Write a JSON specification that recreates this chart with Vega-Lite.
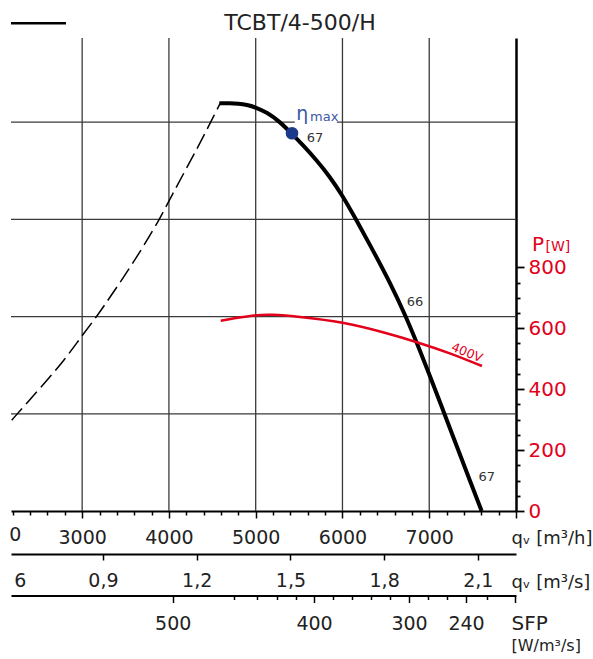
{
  "$schema": "https://vega.github.io/schema/vega-lite/v6.json",
  "width": 505,
  "height": 473,
  "autosize": {"type": "none"},
  "padding": {"left": 11, "top": 38, "right": 77, "bottom": 148},
  "background": "white",
  "config": {
    "view": {"stroke": null},
    "axis": {"grid": false, "labelFont": "DejaVu Sans", "titleFont": "DejaVu Sans", "labelFlush": false, "labelOverlap": false, "labelBound": false, "titleFontWeight": "normal", "labelColor": "#222222", "titleColor": "#222222", "domainColor": "#000000", "tickColor": "#000000"},
    "text": {"font": "DejaVu Sans"}
  },
  "datasets": {
    "vgrid": [{"q": 3000}, {"q": 4000}, {"q": 5000}, {"q": 6000}, {"q": 7000}],
    "hgrid": [
      {"q1": 2180, "q2": 8000, "p": 100},
      {"q1": 2180, "q2": 8000, "p": 200},
      {"q1": 2180, "q2": 8000, "p": 300},
      {"q1": 2180, "q2": 5450, "p": 400},
      {"q1": 5935, "q2": 8000, "p": 400}
    ],
    "dashed": [
      {"q": 2188, "p": 93.4}, {"q": 2361, "p": 110.9}, {"q": 2629, "p": 137.9}, {"q": 2822, "p": 158.4},
      {"q": 3000, "p": 180.7}, {"q": 3168, "p": 200}, {"q": 3321, "p": 220}, {"q": 3586, "p": 254.6},
      {"q": 3897, "p": 300.5}, {"q": 4000, "p": 319.5}, {"q": 4358, "p": 378}, {"q": 4511, "p": 405.5},
      {"q": 4589, "p": 419}
    ],
    "solid": [
      {"q": 4580, "p": 419.3}, {"q": 4700, "p": 419.6}, {"q": 4800, "p": 419.2}, {"q": 4900, "p": 417.8},
      {"q": 5000, "p": 415.3}, {"q": 5130, "p": 410}, {"q": 5272, "p": 401}, {"q": 5418, "p": 388},
      {"q": 5560, "p": 375}, {"q": 5700, "p": 361}, {"q": 5850, "p": 344.5}, {"q": 6000, "p": 324.5},
      {"q": 6144, "p": 302}, {"q": 6352, "p": 268}, {"q": 6548, "p": 235}, {"q": 6732, "p": 200},
      {"q": 6870, "p": 170}, {"q": 7000, "p": 141}, {"q": 7162, "p": 103}, {"q": 7320, "p": 66},
      {"q": 7470, "p": 31}, {"q": 7604, "p": 0}
    ],
    "power": [
      {"q": 4597, "P": 624.8}, {"q": 4992, "P": 643.5}, {"q": 5165, "P": 645.8}, {"q": 5511, "P": 637.9},
      {"q": 6006, "P": 620.5}, {"q": 6467, "P": 587.7}, {"q": 6859, "P": 554.8}, {"q": 7239, "P": 518.7},
      {"q": 7608, "P": 476}
    ],
    "dot": [{"q": 5418.5, "p": 388.6}],
    "nums": [
      {"q": 6836, "p": 215.3, "t": "66"},
      {"q": 7662, "p": 35.3, "t": "67"},
      {"q": 5683, "p": 383.4, "t": "67"}
    ],
    "eta": [{"q": 5468, "p": 402.3, "t": "η"}],
    "maxlab": [{"q": 5626, "p": 400.7, "t": "max"}],
    "volt": [{"q": 7435, "P": 519.7, "t": "400V"}],
    "legend": [{"q1": 2180, "q2": 2814, "p": 501.7}],
    "heading": [{"q": 5511, "p": 494.9, "t": "TCBT/4-500/H"}]
  },
  "layer": [
    {
      "data": {"name": "vgrid"},
      "mark": {"type": "rule", "color": "#3a3a3a", "strokeWidth": 1.3},
      "encoding": {
        "x": {
          "field": "q", "type": "quantitative",
          "scale": {"domain": [2180, 8000], "nice": false, "zero": false},
          "axis": {
            "orient": "bottom",
            "values": [2200, 2400, 2600, 2800, 3000, 3200, 3400, 3600, 3800, 4000, 4200, 4400, 4600, 4800, 5000, 5200, 5400, 5600, 5800, 6000, 6200, 6400, 6600, 6800, 7000, 7200, 7400, 7600, 7800, 8000],
            "labelExpr": "datum.value == 2200 ? '0' : ((datum.value % 1000 == 0 && datum.value < 8000) ? format(datum.value, 'd') : '')",
            "tickSize": {"condition": {"test": "datum.value % 1000 == 0", "value": 7}, "value": 4},
            "labelOffset": {"condition": {"test": "datum.value == 2200", "value": 2}, "value": 0},
            "domainWidth": 2, "tickWidth": 1.5,
            "labelFontSize": 19, "labelPadding": 19, "labelBaseline": "middle",
            "title": "qᵥ [m³/h]", "titleFontSize": 18, "titleAngle": 0, "titleAlign": "left", "titleBaseline": "middle", "titleX": 500, "titleY": 27
          }
        }
      }
    },
    {
      "data": {"name": "hgrid"},
      "mark": {"type": "rule", "color": "#3a3a3a", "strokeWidth": 1.3},
      "encoding": {
        "x": {"field": "q1", "type": "quantitative", "scale": {"domain": [2180, 8000], "nice": false, "zero": false}, "axis": null},
        "x2": {"field": "q2"},
        "y": {"field": "p", "type": "quantitative", "scale": {"domain": [0, 486.6], "nice": false, "zero": false}, "axis": null}
      }
    },
    {
      "data": {"name": "dashed"},
      "mark": {"type": "line", "color": "#000000", "strokeWidth": 1.5, "strokeDash": [16, 6], "interpolate": "basis"},
      "encoding": {
        "x": {
          "field": "q", "type": "quantitative",
          "scale": {"domain": [2180, 8000], "nice": false, "zero": false},
          "axis": {
            "orient": "bottom", "offset": 43,
            "values": [2280, 3240, 4320, 5400, 6480, 7560],
            "labelExpr": "datum.value == 2280 ? '6' : replace(format(datum.value / 3600, '.1f'), '.', ',')",
            "tickOpacity": {"condition": {"test": "datum.value == 2280", "value": 0}, "value": 1},
            "tickSize": 6, "tickWidth": 1.5, "domainWidth": 2,
            "labelFontSize": 19, "labelPadding": 20, "labelBaseline": "middle",
            "title": "qᵥ [m³/s]", "titleFontSize": 18, "titleAngle": 0, "titleAlign": "left", "titleBaseline": "middle", "titleX": 500, "titleY": 28
          }
        },
        "y": {"field": "p", "type": "quantitative", "scale": {"domain": [0, 486.6], "nice": false, "zero": false}, "axis": null}
      }
    },
    {
      "data": {"name": "solid"},
      "mark": {"type": "line", "color": "#000000", "strokeWidth": 4, "interpolate": "basis"},
      "encoding": {
        "x": {
          "field": "q", "type": "quantitative",
          "scale": {"domain": [2180, 8000], "nice": false, "zero": false},
          "axis": {
            "orient": "bottom", "offset": 84.5, "domain": false, "ticks": false, "labels": false,
            "title": "[W/m³/s]", "titleFontSize": 16, "titleAngle": 0, "titleAlign": "left", "titleBaseline": "middle", "titleX": 500, "titleY": 50
          }
        },
        "y": {"field": "p", "type": "quantitative", "scale": {"domain": [0, 486.6], "nice": false, "zero": false}, "axis": null}
      }
    },
    {
      "data": {"name": "power"},
      "mark": {"type": "line", "color": "#e3001b", "strokeWidth": 2.5, "interpolate": "basis"},
      "encoding": {
        "x": {
          "field": "q", "type": "quantitative",
          "scale": {"domain": [2180, 8000], "nice": false, "zero": false},
          "axis": {
            "orient": "bottom", "offset": 84.5,
            "values": [4044, 4753, 5012, 5242, 5461, 5672, 5888, 6113, 6329, 6548, 6767, 6982, 7201, 7424, 7662, 7990],
            "labelExpr": "datum.value == 4044 ? '500' : datum.value == 5672 ? '400' : datum.value == 6767 ? '300' : datum.value == 7424 ? '240' : ''",
            "tickSize": {"condition": {"test": "indexof([4044, 5672, 6767, 7424, 7990], datum.value) >= 0", "value": 7}, "value": 4},
            "tickWidth": 1.5, "domainWidth": 2,
            "labelFontSize": 19, "labelPadding": 21, "labelBaseline": "middle",
            "title": "SFP", "titleFontSize": 20, "titleAngle": 0, "titleAlign": "left", "titleBaseline": "middle", "titleX": 500, "titleY": 27.5
          }
        },
        "y": {
          "field": "P", "type": "quantitative",
          "scale": {"domain": [0, 1553], "nice": false, "zero": false},
          "axis": {
            "orient": "right",
            "values": [0, 50, 100, 150, 200, 250, 300, 350, 400, 450, 500, 550, 600, 650, 700, 750, 800],
            "labelExpr": "datum.value % 200 == 0 ? format(datum.value, 'd') : ''",
            "tickSize": {"condition": {"test": "datum.value % 200 == 0", "value": 8}, "value": 4},
            "tickWidth": 1.8, "domainWidth": 2.5,
            "labelColor": "#e3001b", "labelFontSize": 20, "labelPadding": 4, "labelBaseline": "middle", "labelAlign": "left",
            "title": "P", "titleColor": "#e3001b", "titleFontSize": 20, "titleAngle": 0, "titleAlign": "left", "titleBaseline": "alphabetic", "titleX": 15.5, "titleY": 212
          }
        }
      }
    },
    {
      "data": {"name": "dot"},
      "mark": {"type": "point", "filled": true, "color": "#1c3a8c", "opacity": 1, "size": 160},
      "encoding": {
        "x": {"field": "q", "type": "quantitative", "scale": {"domain": [2180, 8000], "nice": false, "zero": false}, "axis": null},
        "y": {"field": "p", "type": "quantitative", "scale": {"domain": [0, 486.6], "nice": false, "zero": false}, "axis": null}
      }
    },
    {
      "data": {"name": "nums"},
      "mark": {"type": "text", "fontSize": 13, "color": "#333333", "align": "center", "baseline": "middle"},
      "encoding": {
        "x": {"field": "q", "type": "quantitative", "scale": {"domain": [2180, 8000], "nice": false, "zero": false}, "axis": null},
        "y": {"field": "p", "type": "quantitative", "scale": {"domain": [0, 486.6], "nice": false, "zero": false}, "axis": null},
        "text": {"field": "t"}
      }
    },
    {
      "data": {"name": "eta"},
      "mark": {"type": "text", "fontSize": 19, "color": "#3c58a6", "align": "left", "baseline": "alphabetic"},
      "encoding": {
        "x": {"field": "q", "type": "quantitative", "scale": {"domain": [2180, 8000], "nice": false, "zero": false}, "axis": null},
        "y": {"field": "p", "type": "quantitative", "scale": {"domain": [0, 486.6], "nice": false, "zero": false}, "axis": null},
        "text": {"field": "t"}
      }
    },
    {
      "data": {"name": "maxlab"},
      "mark": {"type": "text", "fontSize": 13, "color": "#3c58a6", "align": "left", "baseline": "alphabetic"},
      "encoding": {
        "x": {"field": "q", "type": "quantitative", "scale": {"domain": [2180, 8000], "nice": false, "zero": false}, "axis": null},
        "y": {"field": "p", "type": "quantitative", "scale": {"domain": [0, 486.6], "nice": false, "zero": false}, "axis": null},
        "text": {"field": "t"}
      }
    },
    {
      "data": {"name": "volt"},
      "mark": {"type": "text", "fontSize": 12.5, "color": "#e3001b", "align": "center", "baseline": "middle", "angle": 22},
      "encoding": {
        "x": {"field": "q", "type": "quantitative", "scale": {"domain": [2180, 8000], "nice": false, "zero": false}, "axis": null},
        "y": {
          "field": "P", "type": "quantitative",
          "scale": {"domain": [0, 1553], "nice": false, "zero": false},
          "axis": {
            "orient": "right", "domain": false, "ticks": false, "labels": false,
            "title": "[W]", "titleColor": "#e3001b", "titleFontSize": 14, "titleAngle": 0, "titleAlign": "left", "titleBaseline": "alphabetic", "titleX": 29, "titleY": 212
          }
        },
        "text": {"field": "t"}
      }
    },
    {
      "data": {"name": "legend"},
      "mark": {"type": "rule", "color": "#000000", "strokeWidth": 2.5},
      "encoding": {
        "x": {"field": "q1", "type": "quantitative", "scale": {"domain": [2180, 8000], "nice": false, "zero": false}, "axis": null},
        "x2": {"field": "q2"},
        "y": {"field": "p", "type": "quantitative", "scale": {"domain": [0, 486.6], "nice": false, "zero": false}, "axis": null}
      }
    },
    {
      "data": {"name": "heading"},
      "mark": {"type": "text", "fontSize": 22, "color": "#222222", "align": "center", "baseline": "alphabetic"},
      "encoding": {
        "x": {"field": "q", "type": "quantitative", "scale": {"domain": [2180, 8000], "nice": false, "zero": false}, "axis": null},
        "y": {"field": "p", "type": "quantitative", "scale": {"domain": [0, 486.6], "nice": false, "zero": false}, "axis": null},
        "text": {"field": "t"}
      }
    }
  ],
  "resolve": {"scale": {"y": "independent"}, "axis": {"x": "independent", "y": "independent"}}
}
